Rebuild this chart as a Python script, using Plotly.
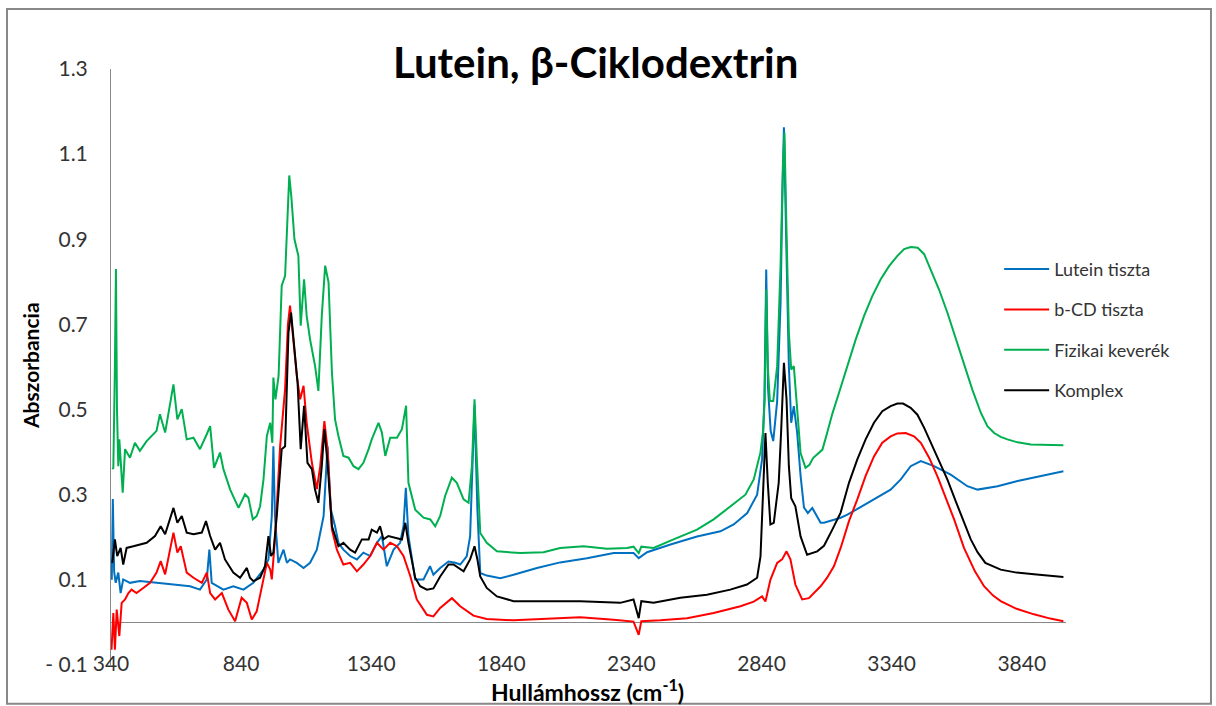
import plotly.graph_objects as go

# ---- data (wavenumber cm-1, absorbance) ----
lutein_x = [343, 347, 352, 358, 368, 377, 387, 413, 451, 515, 580, 644, 682, 708, 718, 727, 772, 810, 849, 887,
            926, 945, 958, 964, 970, 983, 1003, 1016, 1028, 1054, 1080, 1105, 1131, 1157, 1172, 1185, 1201, 1214,
            1233, 1259, 1285, 1310, 1336, 1362, 1381, 1400, 1426, 1451, 1464, 1473, 1483, 1509, 1541, 1566, 1579,
            1605, 1637, 1663, 1682, 1707, 1720, 1729, 1737, 1748, 1759, 1784, 1836, 1887, 1977, 2066, 2169, 2272,
            2348, 2368, 2400, 2490, 2592, 2682, 2733, 2785, 2823, 2842, 2851, 2858, 2865, 2875, 2885, 2900, 2913,
            2920, 2926, 2933, 2940, 2945, 2954, 2964, 2977, 2990, 3003, 3018, 3035, 3054, 3067, 3080, 3144, 3170,
            3215, 3259, 3300, 3336, 3375, 3413, 3452, 3503, 3567, 3631, 3670, 3747, 3824, 3875, 4000]
lutein_y = [0.10, 0.29, 0.12, 0.093, 0.117, 0.069, 0.101, 0.093, 0.097, 0.093, 0.089, 0.085, 0.077, 0.101, 0.171,
            0.093, 0.077, 0.085, 0.077, 0.093, 0.124, 0.148, 0.250, 0.414, 0.250, 0.140, 0.171, 0.140, 0.148, 0.140,
            0.128, 0.140, 0.171, 0.250, 0.414, 0.265, 0.226, 0.187, 0.171, 0.156, 0.148, 0.164, 0.156, 0.187, 0.203,
            0.132, 0.171, 0.187, 0.226, 0.316, 0.203, 0.101, 0.101, 0.132, 0.112, 0.128, 0.143, 0.140, 0.136, 0.155,
            0.202, 0.383, 0.510, 0.265, 0.116, 0.110, 0.104, 0.112, 0.128, 0.141, 0.151, 0.163, 0.163, 0.151, 0.165,
            0.183, 0.202, 0.214, 0.230, 0.257, 0.300, 0.383, 0.524, 0.829, 0.550, 0.450, 0.426, 0.520, 0.750, 1.000,
            1.163, 0.950, 0.700, 0.602, 0.469, 0.508, 0.445, 0.344, 0.270, 0.257, 0.269, 0.249, 0.234, 0.234, 0.246,
            0.253, 0.269, 0.285, 0.298, 0.312, 0.336, 0.367, 0.379, 0.367, 0.347, 0.320, 0.312, 0.320, 0.332, 0.339,
            0.355]

bcd_x = [342, 349, 355, 362, 372, 381, 394, 407, 419, 438, 464, 490, 515, 531, 548, 567, 580, 595, 608, 631, 657,
         689, 708, 721, 740, 766, 791, 817, 842, 862, 881, 900, 919, 939, 952, 958, 970, 990, 1009, 1020, 1028,
         1041, 1054, 1067, 1080, 1092, 1112, 1131, 1144, 1160, 1172, 1189, 1208, 1233, 1259, 1285, 1310, 1336,
         1362, 1387, 1413, 1439, 1464, 1490, 1515, 1541, 1554, 1579, 1605, 1650, 1682, 1733, 1784, 1887, 2015,
         2143, 2272, 2348, 2368, 2378, 2451, 2554, 2656, 2759, 2810, 2842, 2855, 2874, 2900, 2919, 2936, 2951,
         2970, 2996, 3022, 3067, 3092, 3118, 3144, 3176, 3208, 3240, 3272, 3304, 3336, 3362, 3394, 3426, 3452,
         3484, 3516, 3548, 3580, 3618, 3660, 3695, 3730, 3759, 3820, 3887, 3950, 4000]
bcd_y = [-0.064, 0.022, -0.064, 0.030, -0.032, 0.046, 0.054, 0.069, 0.077, 0.069, 0.081, 0.093, 0.117, 0.144,
         0.113, 0.171, 0.211, 0.164, 0.179, 0.117, 0.105, 0.093, 0.117, 0.069, 0.054, 0.069, 0.030, 0.003, 0.058,
         0.046, 0.007, 0.026, 0.085, 0.140, 0.124, 0.101, 0.195, 0.414, 0.548, 0.700, 0.744, 0.657, 0.579, 0.524,
         0.556, 0.469, 0.375, 0.313, 0.367, 0.473, 0.407, 0.218, 0.171, 0.136, 0.140, 0.120, 0.136, 0.156, 0.187,
         0.171, 0.187, 0.179, 0.156, 0.109, 0.054, 0.030, 0.018, 0.014, 0.034, 0.057, 0.038, 0.016, 0.008, 0.005,
         0.008, 0.012, 0.006, 0.002, -0.029, 0.003, 0.005, 0.010, 0.022, 0.038, 0.049, 0.061, 0.049, 0.100, 0.140,
         0.148, 0.167, 0.148, 0.089, 0.054, 0.057, 0.085, 0.105, 0.132, 0.175, 0.238, 0.289, 0.344, 0.390, 0.422,
         0.437, 0.444, 0.445, 0.437, 0.422, 0.387, 0.343, 0.292, 0.242, 0.175, 0.120, 0.085, 0.063, 0.050, 0.032,
         0.019, 0.009, 0.003]

mix_x = [345, 349, 355, 359, 363, 368, 372, 378, 385, 394, 413, 432, 451, 477, 515, 528, 548, 580, 595, 612, 631,
         657, 682, 708, 721, 736, 759, 772, 798, 830, 855, 868, 885, 900, 913, 926, 939, 952, 960, 964, 972, 984,
         996, 1009, 1017, 1025, 1033, 1045, 1060, 1069, 1082, 1092, 1105, 1124, 1137, 1150, 1163, 1176, 1189,
         1201, 1214, 1233, 1253, 1272, 1291, 1310, 1330, 1342, 1368, 1381, 1394, 1413, 1439, 1458, 1474, 1483,
         1509, 1541, 1567, 1586, 1605, 1624, 1650, 1669, 1695, 1714, 1727, 1737, 1746, 1759, 1784, 1823, 1913,
         2002, 2066, 2156, 2246, 2323, 2348, 2368, 2378, 2425, 2502, 2592, 2656, 2720, 2778, 2810, 2836, 2846,
         2852, 2858, 2864, 2872, 2885, 2900, 2913, 2922, 2928, 2936, 2945, 2954, 2964, 2974, 2990, 3009, 3024,
         3038, 3060, 3074, 3092, 3112, 3138, 3170, 3202, 3234, 3266, 3298, 3330, 3362, 3388, 3413, 3440, 3465,
         3490, 3522, 3554, 3586, 3618, 3650, 3683, 3708, 3734, 3759, 3785, 3824, 3875, 4000]
mix_y = [0.360, 0.363, 0.600, 0.830, 0.500, 0.367, 0.430, 0.360, 0.305, 0.407, 0.387, 0.422, 0.403, 0.426, 0.450,
         0.489, 0.446, 0.559, 0.477, 0.501, 0.430, 0.434, 0.407, 0.442, 0.461, 0.363, 0.399, 0.360, 0.312, 0.269,
         0.301, 0.293, 0.242, 0.250, 0.273, 0.336, 0.438, 0.469, 0.422, 0.575, 0.524, 0.579, 0.791, 0.814, 0.950,
         1.050, 1.000, 0.900, 0.861, 0.697, 0.806, 0.720, 0.665, 0.603, 0.544, 0.720, 0.838, 0.799, 0.587, 0.477,
         0.438, 0.391, 0.387, 0.367, 0.360, 0.375, 0.407, 0.430, 0.469, 0.446, 0.391, 0.434, 0.434, 0.454, 0.509,
         0.328, 0.265, 0.246, 0.242, 0.226, 0.250, 0.297, 0.340, 0.328, 0.289, 0.281, 0.367, 0.524, 0.383, 0.210,
         0.187, 0.167, 0.163, 0.165, 0.175, 0.179, 0.173, 0.175, 0.178, 0.163, 0.178, 0.175, 0.195, 0.218, 0.242,
         0.273, 0.300, 0.336, 0.400, 0.450, 0.524, 0.782, 0.600, 0.520, 0.520, 0.602, 0.837, 1.073, 1.151, 0.916,
         0.681, 0.594, 0.602, 0.524, 0.398, 0.363, 0.370, 0.386, 0.398, 0.406, 0.445, 0.490, 0.540, 0.602, 0.665,
         0.720, 0.767, 0.806, 0.837, 0.861, 0.877, 0.882, 0.880, 0.865, 0.830, 0.782, 0.728, 0.669, 0.610, 0.547,
         0.492, 0.461, 0.445, 0.436, 0.430, 0.423, 0.418, 0.416]

komplex_x = [345, 349, 355, 364, 377, 387, 400, 426, 451, 477, 509, 531, 548, 567, 580, 595, 612, 631, 657, 689,
             705, 721, 740, 759, 778, 810, 836, 862, 874, 887, 913, 932, 945, 955, 964, 977, 996, 1009, 1022, 1032,
             1044, 1057, 1069, 1082, 1095, 1112, 1124, 1137, 1150, 1160, 1172, 1189, 1214, 1233, 1259, 1278, 1304,
             1330, 1342, 1362, 1374, 1387, 1406, 1432, 1458, 1471, 1483, 1509, 1528, 1554, 1579, 1605, 1637, 1656,
             1695, 1720, 1737, 1748, 1759, 1784, 1823, 1887, 2015, 2143, 2297, 2348, 2368, 2378, 2425, 2528, 2630,
             2720, 2784, 2823, 2836, 2846, 2855, 2864, 2874, 2887, 2906, 2915, 2926, 2936, 2945, 2954, 2970, 2990,
             3015, 3054, 3080, 3112, 3144, 3176, 3208, 3240, 3272, 3304, 3336, 3362, 3384, 3413, 3439, 3465, 3490,
             3522, 3554, 3586, 3618, 3644, 3670, 3700, 3759, 3820, 3887, 4000]
komplex_y = [0.140, 0.167, 0.195, 0.156, 0.175, 0.136, 0.175, 0.179, 0.183, 0.187, 0.203, 0.226, 0.207, 0.242,
             0.269, 0.234, 0.250, 0.211, 0.207, 0.211, 0.238, 0.203, 0.171, 0.187, 0.148, 0.117, 0.105, 0.128,
             0.105, 0.097, 0.105, 0.132, 0.203, 0.156, 0.164, 0.250, 0.407, 0.414, 0.681, 0.728, 0.642, 0.563,
             0.407, 0.509, 0.375, 0.360, 0.312, 0.281, 0.367, 0.454, 0.375, 0.226, 0.179, 0.187, 0.171, 0.164,
             0.195, 0.195, 0.218, 0.211, 0.226, 0.195, 0.203, 0.199, 0.195, 0.234, 0.187, 0.105, 0.085, 0.077,
             0.080, 0.108, 0.136, 0.136, 0.120, 0.148, 0.179, 0.148, 0.108, 0.081, 0.061, 0.050, 0.050, 0.050,
             0.046, 0.054, 0.010, 0.050, 0.046, 0.058, 0.065, 0.077, 0.089, 0.105, 0.155, 0.289, 0.445, 0.328,
             0.230, 0.234, 0.328, 0.445, 0.610, 0.524, 0.367, 0.292, 0.273, 0.202, 0.159, 0.167, 0.180, 0.218,
             0.258, 0.328, 0.383, 0.430, 0.469, 0.496, 0.508, 0.514, 0.514, 0.504, 0.488, 0.457, 0.422, 0.379,
             0.336, 0.285, 0.234, 0.195, 0.165, 0.140, 0.124, 0.117, 0.113, 0.107]

series_names = ["Lutein tiszta", "b-CD tiszta", "Fizikai keverék", "Komplex"]
series_colors = ["#0070C0", "#FF0000", "#00B050", "#000000"]
x_ticks = [340, 840, 1340, 1840, 2340, 2840, 3340, 3840]
y_ticks = [-0.1, 0.1, 0.3, 0.5, 0.7, 0.9, 1.1, 1.3]
y_tick_text = ["- 0.1", "0.1", "0.3", "0.5", "0.7", "0.9", "1.1", "1.3"]

FONT = "Lato, 'Open Sans', sans-serif"

fig = go.Figure()
for i, (xs, ys) in enumerate([(lutein_x, lutein_y), (bcd_x, bcd_y), (mix_x, mix_y), (komplex_x, komplex_y)]):
    fig.add_trace(go.Scatter(x=xs, y=ys, mode="lines", name=series_names[i],
                             legendgroup=f"g{i}",
                             line=dict(color=series_colors[i], width=2)))

fig.update_layout(
    width=1216, height=706,
    margin=dict(l=111, r=150, t=69, b=41),
    paper_bgcolor="white", plot_bgcolor="white",
    font=dict(family=FONT, color="#333333"),
    showlegend=True,
    legend=dict(x=0.93, y=0.695, xanchor="left", yanchor="top",
                bgcolor="rgba(0,0,0,0)", font=dict(size=18, color="#333333", family=FONT),
                tracegroupgap=14, itemwidth=45),
    xaxis=dict(range=[340, 4010], tickvals=x_ticks, showgrid=False, zeroline=False,
               showline=False, ticks="", tickfont=dict(size=21, color="#333333"),
               ticklabelstandoff=-16),
    yaxis=dict(range=[-0.1, 1.3], tickvals=y_ticks, ticktext=y_tick_text, showgrid=False,
               zeroline=True, zerolinecolor="#888888", zerolinewidth=1,
               showline=True, linecolor="#888888", linewidth=1, ticks="",
               tickfont=dict(size=21, color="#333333"), ticklabelstandoff=18),
    annotations=[
        dict(text="<b>Lutein, β-Ciklodextrin</b>", x=0.507, y=1.012, xref="paper", yref="paper",
             xanchor="center", yanchor="middle", showarrow=False,
             font=dict(size=42, color="black", family=FONT)),
        dict(text="<b>Abszorbancia</b>", x=-0.085, y=0.503, xref="paper", yref="paper",
             xanchor="center", yanchor="middle", textangle=-90, showarrow=False,
             font=dict(size=21, color="black", family=FONT)),
        dict(text="<b>Hullámhossz (cm<sup>-1</sup>)</b>", x=0.499, y=-0.042, xref="paper", yref="paper",
             xanchor="center", yanchor="middle", showarrow=False,
             font=dict(size=23, color="black", family=FONT)),
    ],
    shapes=[dict(type="rect", xref="paper", yref="paper",
                 x0=-0.1089, x1=1.1518, y0=-0.065, y1=1.1007,
                 line=dict(color="#888888", width=2), fillcolor="rgba(0,0,0,0)", layer="below")],
)

fig.write_html("out.html")
